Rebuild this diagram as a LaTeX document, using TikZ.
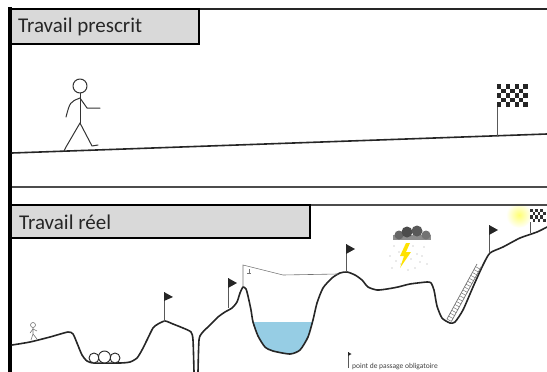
\documentclass[tikz,border=0pt]{standalone}
\usepackage{fontspec}
\setmainfont{Carlito}
\usetikzlibrary{positioning}

\definecolor{lakeblue}{RGB}{150,205,228}
\definecolor{boxgray}{RGB}{217,217,217}

\begin{document}
\begin{tikzpicture} [
                x=1pt, y=-1pt,
                ground/.style={
                    line width=1.6pt,
                    black!85,
                    line join=round,
                    line cap=round
                },
                frameline/.style={
                    line width=1.5pt,
                    black!70
                },
                titlebox/.style={
                    fill=boxgray,
                    draw=black,
                    line width=2.4pt
                },
                titletext/.style={
                    anchor=west,
                    inner sep=0pt,
                    text=black!85,
                    font=\fontsize{21}{21}\selectfont
                },
                walker/.style={
                    line width=1pt,
                    black!80,
                    line cap=round,
                    line join=round
                },
                pole/.style={
                    line width=0.8pt,
                    black!65
                },
                pennant/.style={
                    fill=black!85
                },
                rock/.style={
                    draw=black!85,
                    fill=white,
                    line width=0.9pt
                },
                thin gray/.style={
                    line width=0.6pt,
                    black!55
                }
            ]

                \useasboundingbox (0,0) rectangle (547,372);

                % glow behind the finish flag
                \shade[inner color=yellow!55, outer color=white] (519,215) circle (13);

                % frames and title boxes
                \draw[line width=2.6pt, black!85]   (8,9) -- (547,9);
                \draw[frameline]                    (12,187) -- (547,187);
                \draw[frameline]                    (12,205) -- (547,205);
                \draw[titlebox]                     (10,9) rectangle (199,44);
                \draw[titlebox]                     (10,205) rectangle (310,238);
                \draw[line width=4pt, black]        (10,7) -- (10,372);

                \node[titletext]    (prescrit)  at (18,27)      {Travail prescrit};
                \node[titletext]    (reel)      at (19,222)     {Travail réel};

                % prescribed path: straight slope
                \draw[ground] (12,153) -- (547,134);

                \draw[walker] (80,86) circle (7);
                \draw[walker] (80,93) -- (80,123);
                \draw[walker] (80,98) .. controls (70,102) .. (66,117);
                \draw[walker] (80,98) -- (87,108) -- (100,108);
                \draw[walker] (80,123) -- (66,147) -- (64,151);
                \draw[walker] (80,123) -- (92,146) -- (98,145);

                \draw[pole, line width=1pt] (497,136) -- (497,84);
                \fill[white] (497,84) rectangle ++(31,23);
                \foreach \i in {0,...,6} {
                    \foreach \j in {0,...,4} {
                        \pgfmathtruncatemacro\sq{mod(\i+\j,2)}
                        \ifnum\sq=0 \fill[black!85] (497+4.4*\i,84+4.6*\j) rectangle ++(4.4,4.6); \fi
                    }
                }

                % real path: lake first, then the ground over it
                \begin{scope}
                    \clip (200,322) rectangle (330,372);
                    \fill[lakeblue] plot[smooth, tension=0.4] coordinates {
                        (251,310) (253,322) (258,336) (265,347) (273,351) (290,354)
                        (300,350) (308,337) (313,320) (317,303)} -- cycle;
                \end{scope}

                \draw[ground] plot[smooth, tension=0.4] coordinates {
                    (12,345) (30,342) (50,337) (68,332) (73,334) (77,343) (82,355)
                    (87,361) (94,363) (120,363) (130,362) (137,358) (142,350) (147,340)
                    (153,328) (158,324) (165,321) (173,324) (183,328) (191,332)
                    (193,340) (194,372)};
                \draw[ground] plot[smooth, tension=0.4] coordinates {
                    (198,372) (199,340) (202,333) (210,325) (218,317) (225,312) (232,308)
                    (237,302) (240,293) (243,287) (246,289) (248,296) (251,310) (253,322)
                    (258,336) (265,347) (273,351) (290,354) (300,350) (308,337) (313,320)
                    (317,303) (323,288) (332,278) (340,273) (347,272) (355,275) (362,280)
                    (368,287) (377,290) (387,289) (398,287) (410,284) (427,282) (431,283)
                    (434,290) (437,306) (442,318) (450,323) (455,322) (463,310) (473,287)
                    (483,265) (490,253) (503,247) (520,238) (537,232) (547,227)};

                % small walker at the start
                \draw[thin gray] (33,325) circle (2.5);
                \draw[thin gray] (33,327.5) -- (33,334) -- (31,340);
                \draw[thin gray] (33,334) -- (37,339);
                \draw[thin gray] (30,333) -- (33,329) -- (37,331);

                % boulders in the first dip
                \draw[rock] (94,358) circle (5);
                \draw[rock] (115,358) circle (5);
                \draw[rock] (104.5,357) circle (6);

                % checkpoint flags
                \draw[pole] (164,322) -- (164,292);
                \fill[pennant] (164,292) -- (173,297) -- (164,301) -- cycle;
                \draw[pole] (228,308) -- (228,278);
                \fill[pennant] (228,278) -- (237,283) -- (228,288) -- cycle;
                \draw[pole] (346,272) -- (346,244);
                \fill[pennant] (346,244) -- (355,249) -- (346,254) -- cycle;
                \draw[pole] (489,253) -- (489,225);
                \fill[pennant] (489,225) -- (498,230) -- (489,235) -- cycle;

                % zip line over the lake
                \draw[thin gray] (243,287) -- (243,265) -- (283,275) -- (338,274);
                \draw[thin gray] (249,269) -- (249,273) (247,273) -- (251,273);

                % ladder up the last wall
                \draw[thin gray, line width=0.7pt] (447,319) -- (477,264);
                \draw[thin gray, line width=0.7pt] (451.4,321.4) -- (481.4,266.4);
                \foreach \k in {0,...,18} {
                    \draw[thin gray, line width=0.5pt] ({447+1.6*\k},{319-2.9*\k}) -- ++(4.4,2.4);
                }

                % storm
                \fill[black!45] (393,235) rectangle (431,240);
                \fill[black!60] (399,235) circle (4.5);
                \fill[black!70] (407,232) circle (5.5);
                \fill[black!65] (417,231) circle (5.5);
                \fill[black!55] (426,235) circle (4.5);
                \foreach \p in {(394,246),(399,252),(396,261),(392,268),(413,246),(417,254),
                                (420,262),(415,268),(424,247),(401,264),(411,259),(422,256),
                                (390,256),(427,264),(408,270)} {
                    \fill[black!35] \p circle (0.7);
                }
                \fill[yellow!85!orange] (406,243) -- (400,256) -- (404,256) -- (400,268)
                    -- (411,252) -- (406,252) -- (410,243) -- cycle;

                % finish flag on the real path
                \draw[pole] (530,233) -- (530,209);
                \fill[white] (530,209) rectangle ++(15.6,12.8);
                \foreach \i in {0,...,5} {
                    \foreach \j in {0,...,3} {
                        \pgfmathtruncatemacro\sq{mod(\i+\j,2)}
                        \ifnum\sq=0 \fill[black!80] (530+2.6*\i,209+3.2*\j) rectangle ++(2.6,3.2); \fi
                    }
                }

                % legend for the checkpoint flag
                \draw[pole, line width=0.5pt] (348,368) -- (348,352);
                \fill[pennant] (348,352) -- (351.5,354) -- (348,356) -- cycle;
                \node[anchor=base west, inner sep=0pt, text=black!75,
                      font=\fontsize{7.5}{7.5}\selectfont]  (passage)  at (352,368)  {point de passage obligatoire};

            \end{tikzpicture}
\end{document}
